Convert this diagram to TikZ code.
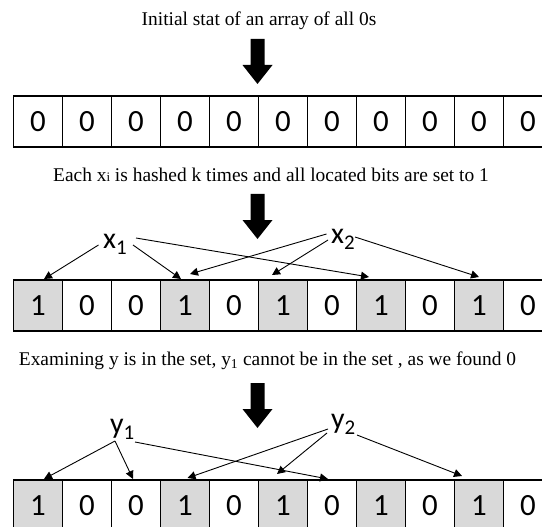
\documentclass[tikz,border=0pt]{standalone}
\usepackage{fontspec}
\setmainfont{Liberation Serif}
\newfontfamily\cellfont{Carlito}
\usetikzlibrary{arrows.meta}
\definecolor{bitgray}{RGB}{217,217,217}
\tikzset{
  bit/.style={draw=black, line width=1.6bp, fill=white, minimum width=49bp,
    minimum height=51bp, inner sep=0pt, anchor=north west,
    font=\cellfont\fontsize{31}{31}\selectfont},
  bitset/.style={bit, fill=bitgray},
  caption/.style={inner sep=0pt, anchor=base, font=\fontsize{19.5}{20}\selectfont},
  hashlabel/.style={inner sep=0pt, anchor=base west, font=\cellfont\fontsize{30}{30}\selectfont},
  hash/.style={line width=0.9bp, -{Triangle[length=8bp,width=8bp]}},
  pics/downarrow/.style={code={
    \fill (-7,0) -- (7,0) -- (7,26) -- (15,26) -- (0,45) -- (-15,26) -- (-7,26) -- cycle;}}
}
\newcommand{\hsub}[1]{\raisebox{-6.5bp}{\fontsize{21}{21}\selectfont #1}}
\begin{document}
\begin{tikzpicture}[x=1bp, y=-1bp]
\useasboundingbox (0,0) rectangle (542,527);
\clip (0,0) rectangle (542,527);

% captions
\node[caption] (t1) at (259,26) {Initial stat of an array of all 0s};
\node[caption] (t2) at (271,181.4) {Each x{\fontsize{13}{13}\selectfont i} is hashed k times and all located bits are set to 1};
\node[caption] (t3) at (267.5,365) {Examining y is in the set, y\textsubscript{1} cannot be in the set , as we found 0};

% thick down arrows
\pic at (257.5,39) {downarrow};
\pic at (257.5,194) {downarrow};
\pic at (257.5,383) {downarrow};

% bit arrays
\foreach \s [count=\i] in {bit,bit,bit,bit,bit,bit,bit,bit,bit,bit,bit}
  \node[\s] (a\i) at ({12.7+(\i-1)*49},95) {0};
\foreach \v/\s [count=\i] in {1/bitset,0/bit,0/bit,1/bitset,0/bit,1/bitset,0/bit,1/bitset,0/bit,1/bitset,0/bit}
  \node[\s] (b\i) at ({12.7+(\i-1)*49},279) {\v};
\foreach \v/\s [count=\i] in {1/bitset,0/bit,0/bit,1/bitset,0/bit,1/bitset,0/bit,1/bitset,0/bit,1/bitset,0/bit}
  \node[\s] (c\i) at ({12.7+(\i-1)*49},479) {\v};

% inserted elements
\node[hashlabel] (x1) at (103,248) {x\hsub{1}};
\node[hashlabel] (x2) at (331,243) {x\hsub{2}};
\draw[hash] ([shift={(-4.5,-3)}]x1.base west) -- ([shift={(6,0)}]b1.north);
\draw[hash] ([shift={(30,-3)}]x1.base west) -- ([shift={(-4,0)}]b4.north);
\draw[hash] ([shift={(33,-10)}]x1.base west) -- ([shift={(-12,-2)}]b8.north);
\draw[hash] ([shift={(-4.5,-9)}]x2.base west) -- ([shift={(5,-5)}]b4.north);
\draw[hash] ([shift={(-3,-3)}]x2.base west) -- ([shift={(-11,-4)}]b6.north);
\draw[hash] ([shift={(24,-6)}]x2.base west) -- ([shift={(0,-2)}]b10.north);

% queried elements
\node[hashlabel] (y1) at (110,433) {y\hsub{1}};
\node[hashlabel] (y2) at (331,428) {y\hsub{2}};
\draw[hash] ([shift={(5,8)}]y1.base west) -- ([shift={(6,0)}]c1.north);
\draw[hash] ([shift={(5,8)}]y1.base west) -- ([shift={(-3,0)}]c3.north);
\draw[hash] ([shift={(25,9)}]y1.base west) -- ([shift={(-4,0)}]c7.north);
\draw[hash] ([shift={(-3,1)}]y2.base west) -- ([shift={(2.5,-1)}]c4.north);
\draw[hash] ([shift={(-4,5)}]y2.base west) -- ([shift={(-6,-5)}]c6.north);
\draw[hash] ([shift={(26,7)}]y2.base west) -- ([shift={(-17,-3)}]c10.north);
\end{tikzpicture}
\end{document}
